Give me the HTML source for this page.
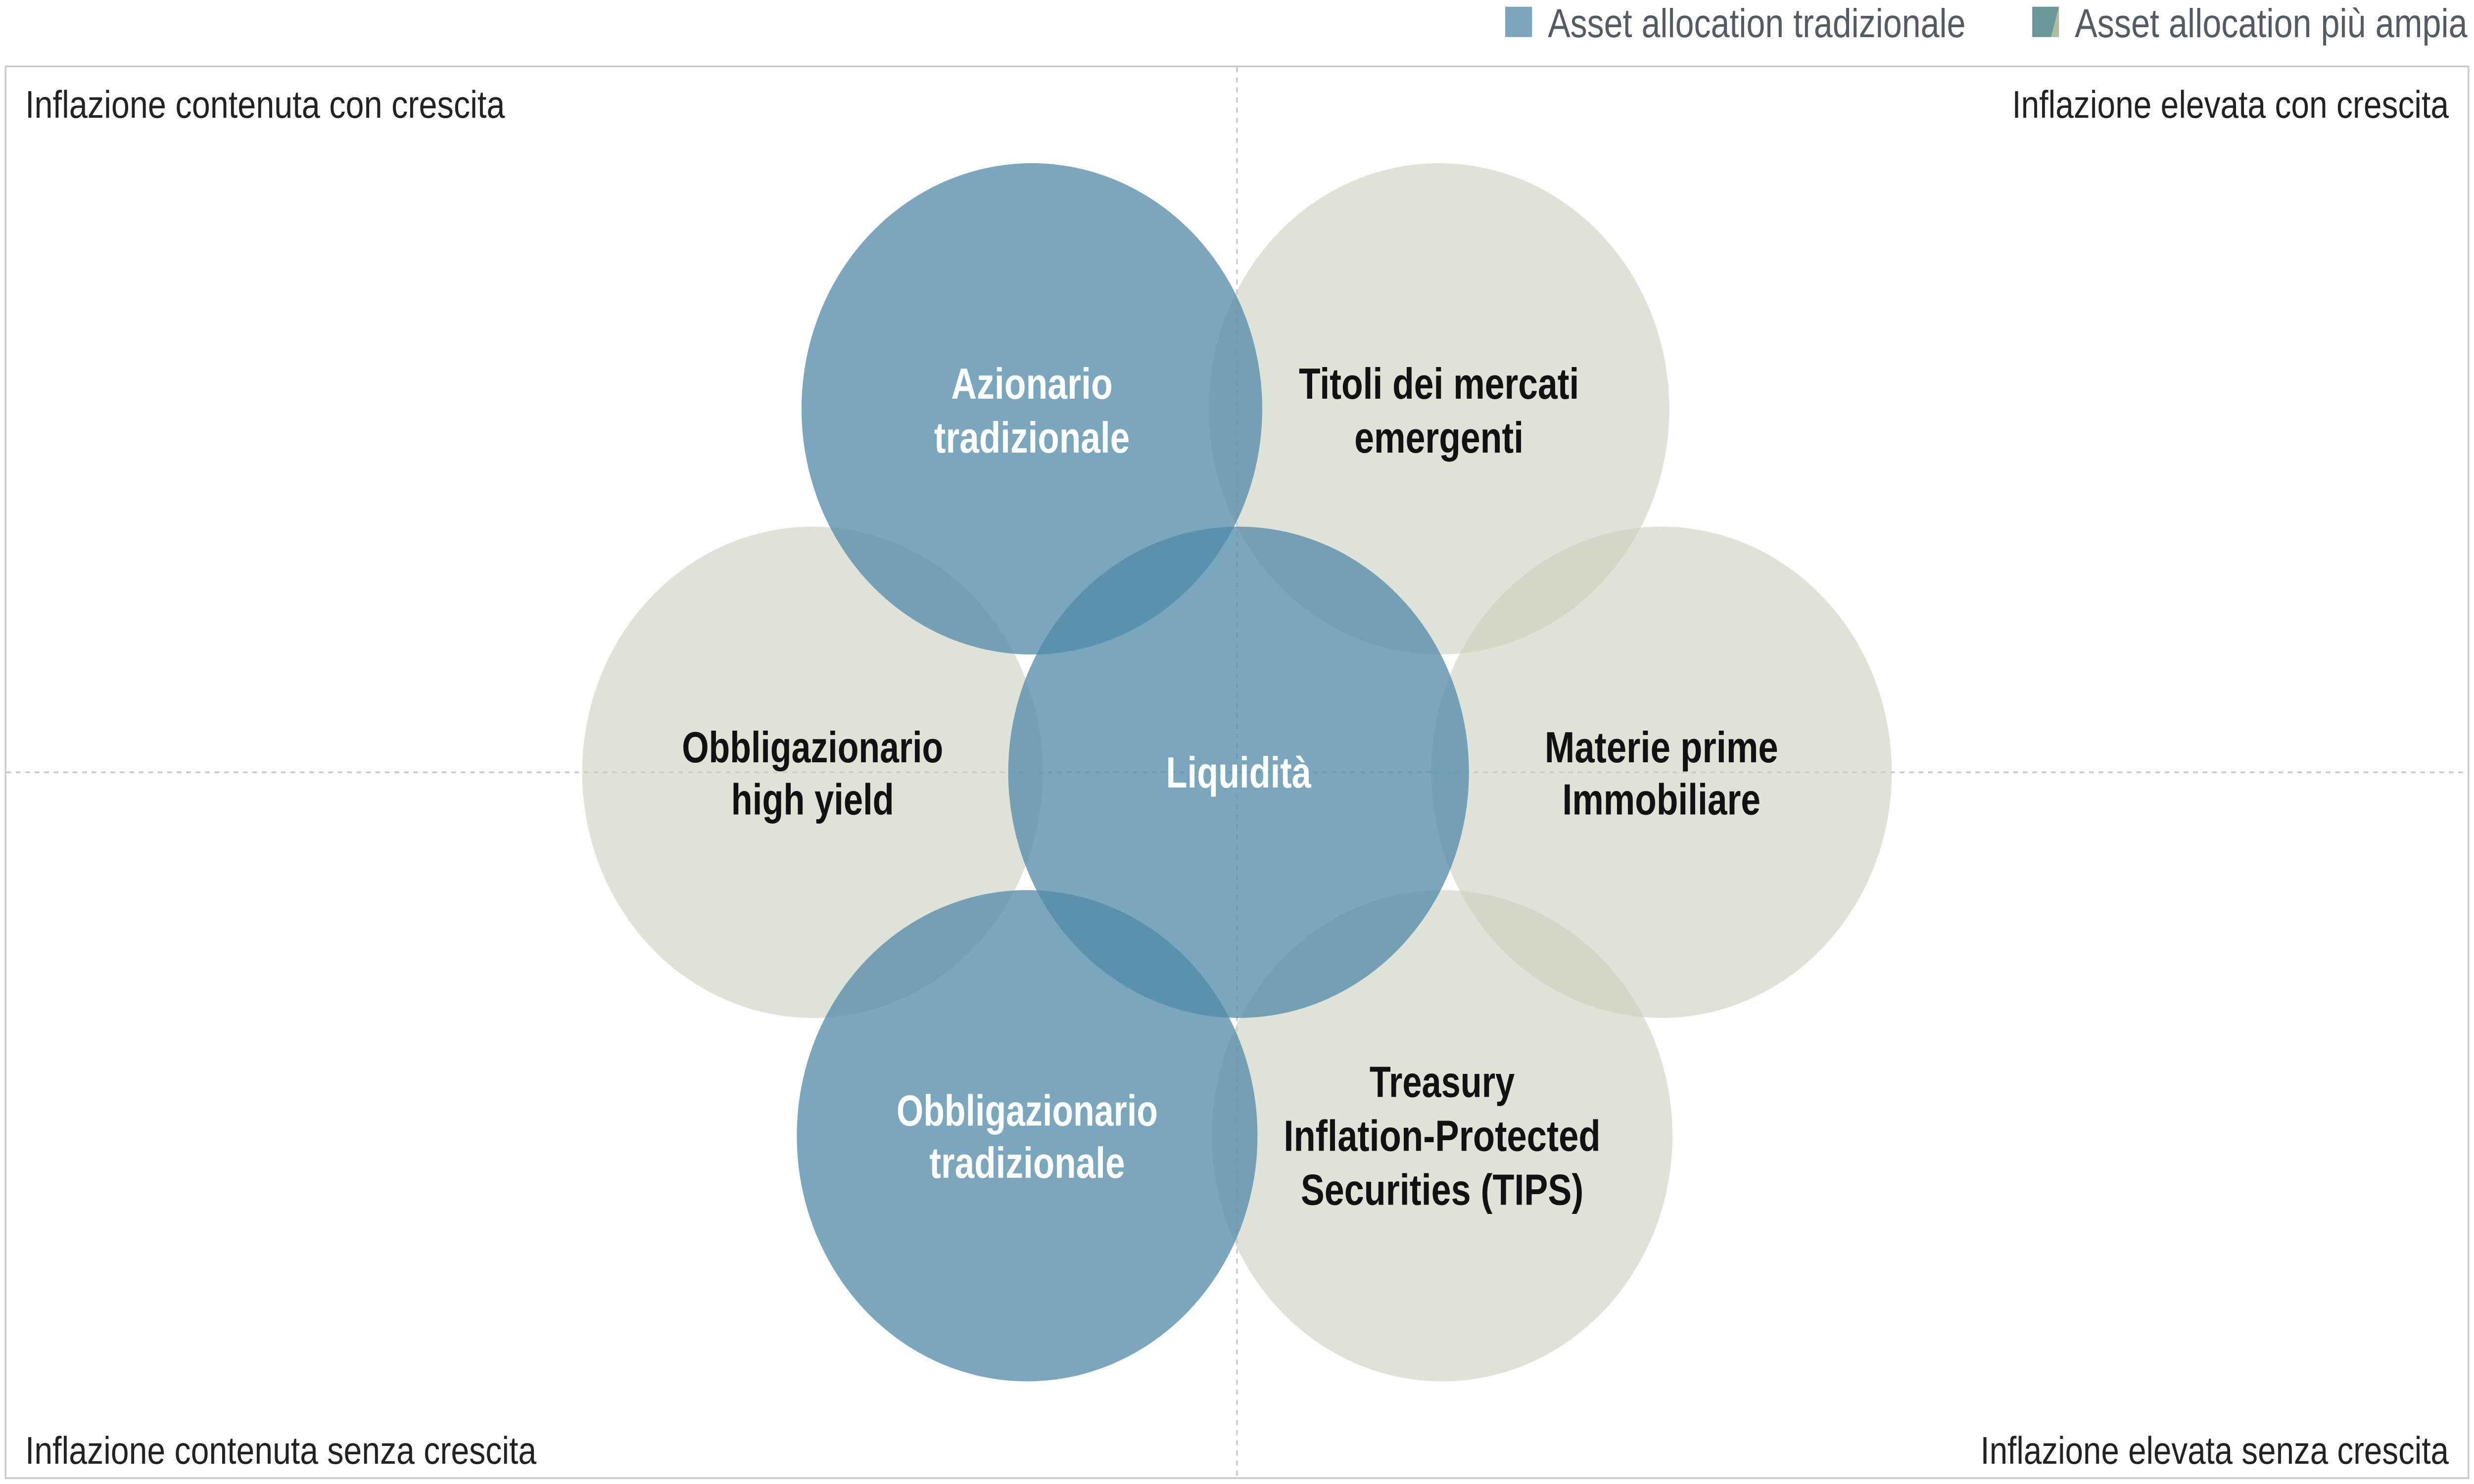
<!DOCTYPE html>
<html><head><meta charset="utf-8"><style>html,body{margin:0;padding:0;background:#fff;overflow:hidden;width:100%;height:100%}svg{display:block;width:100vw;height:100vh}</style></head><body>
<svg viewBox="0 0 1568 882" preserveAspectRatio="none" xmlns="http://www.w3.org/2000/svg" font-family="Liberation Sans, sans-serif">
<rect x="0" y="0" width="1568" height="882" fill="#fff"/>
<rect x="3.5" y="39.5" width="1561" height="839" fill="none" stroke="#c8c8c8" stroke-width="1"/>
<line x1="784" y1="40" x2="784" y2="878" stroke="#c8c8c8" stroke-dasharray="3,3"/>
<line x1="4" y1="459" x2="1564" y2="459" stroke="#c8c8c8" stroke-dasharray="3,3"/>
<rect x="954" y="4" width="17" height="18" fill="#7aa5bb"/>
<text transform="translate(981,22) scale(0.8,1)" font-size="24" fill="#555a63" textLength="331" lengthAdjust="spacingAndGlyphs">Asset allocation tradizionale</text>
<polygon points="1288,4 1305,4 1300,22 1288,22" fill="#6a9899"/>
<polygon points="1305,4 1305,22 1300,22" fill="#afbf9b"/>
<text transform="translate(1315,22) scale(0.8,1)" font-size="24" fill="#555a63" textLength="311" lengthAdjust="spacingAndGlyphs">Asset allocation più ampia</text>
<g font-size="23" fill="#222">
<text transform="translate(16,70) scale(0.8,1)" textLength="380" lengthAdjust="spacingAndGlyphs">Inflazione contenuta con crescita</text>
<text transform="translate(1552,70) scale(0.8,1)" text-anchor="end" textLength="346" lengthAdjust="spacingAndGlyphs">Inflazione elevata con crescita</text>
<text transform="translate(16,870) scale(0.8,1)" textLength="405" lengthAdjust="spacingAndGlyphs">Inflazione contenuta senza crescita</text>
<text transform="translate(1552,870) scale(0.8,1)" text-anchor="end" textLength="371" lengthAdjust="spacingAndGlyphs">Inflazione elevata senza crescita</text>
</g>
<g fill="#c9d1bc" fill-opacity="0.6">
<circle cx="912" cy="243" r="146"/>
<circle cx="515" cy="459" r="146"/>
<circle cx="1053" cy="459" r="146"/>
<circle cx="914" cy="675" r="146"/>
</g>
<g fill="#4f89a8" fill-opacity="0.75">
<circle cx="654" cy="243" r="146"/>
<circle cx="785" cy="459" r="146"/>
<circle cx="651" cy="675" r="146"/>
</g>
<g font-size="26" font-weight="bold" text-anchor="middle">
<g fill="#fff">
<text transform="translate(654,237) scale(0.8,1)" textLength="128" lengthAdjust="spacingAndGlyphs">Azionario</text>
<text transform="translate(654,269) scale(0.8,1)" textLength="155" lengthAdjust="spacingAndGlyphs">tradizionale</text>
<text transform="translate(785,468) scale(0.8,1)" textLength="115" lengthAdjust="spacingAndGlyphs">Liquidità</text>
<text transform="translate(651,669) scale(0.8,1)" textLength="207" lengthAdjust="spacingAndGlyphs">Obbligazionario</text>
<text transform="translate(651,700) scale(0.8,1)" textLength="155" lengthAdjust="spacingAndGlyphs">tradizionale</text>
</g>
<g fill="#111">
<text transform="translate(912,237) scale(0.8,1)" textLength="222" lengthAdjust="spacingAndGlyphs">Titoli dei mercati</text>
<text transform="translate(912,269) scale(0.8,1)" textLength="134" lengthAdjust="spacingAndGlyphs">emergenti</text>
<text transform="translate(515,453) scale(0.8,1)" textLength="207" lengthAdjust="spacingAndGlyphs">Obbligazionario</text>
<text transform="translate(515,484) scale(0.8,1)" textLength="129" lengthAdjust="spacingAndGlyphs">high yield</text>
<text transform="translate(1053,453) scale(0.8,1)" textLength="185" lengthAdjust="spacingAndGlyphs">Materie prime</text>
<text transform="translate(1053,484) scale(0.8,1)" textLength="157" lengthAdjust="spacingAndGlyphs">Immobiliare</text>
<text transform="translate(914,652) scale(0.8,1)" textLength="115" lengthAdjust="spacingAndGlyphs">Treasury</text>
<text transform="translate(914,684) scale(0.8,1)" textLength="251" lengthAdjust="spacingAndGlyphs">Inflation-Protected</text>
<text transform="translate(914,716) scale(0.8,1)" textLength="224" lengthAdjust="spacingAndGlyphs">Securities (TIPS)</text>
</g>
</g>
</svg>
</body></html>
